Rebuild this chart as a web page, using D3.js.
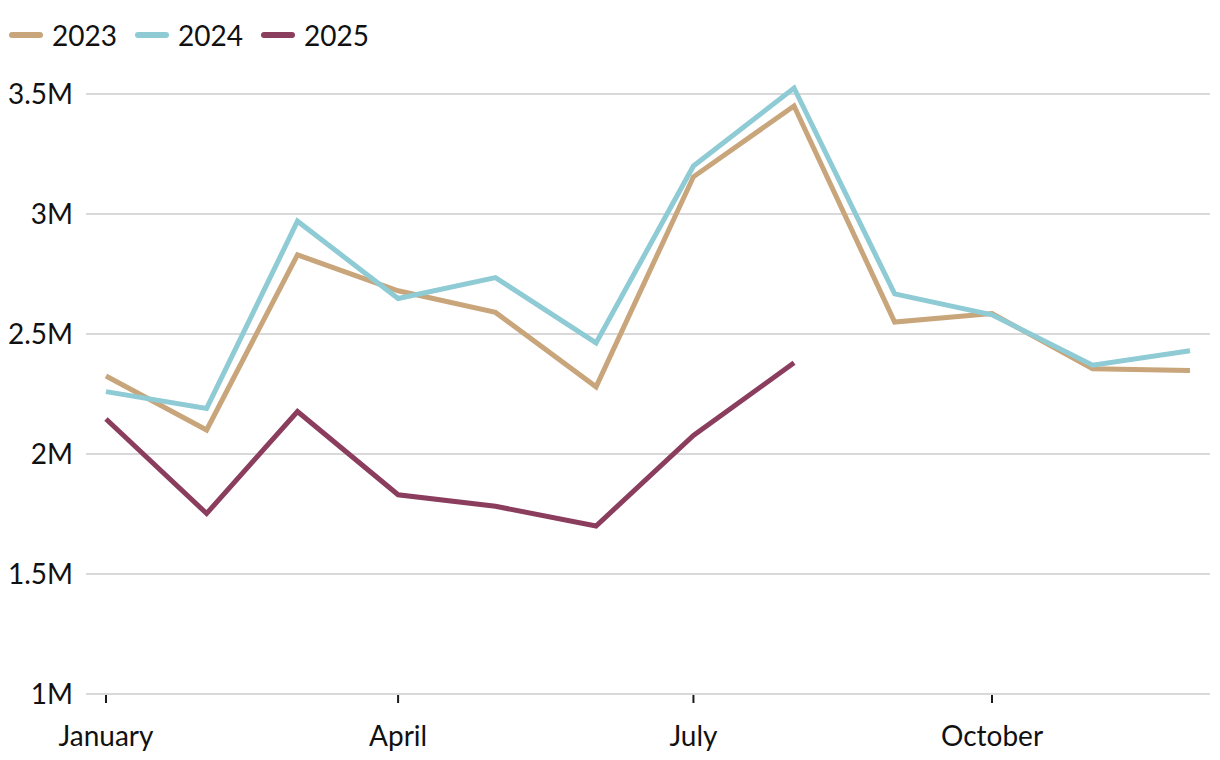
<!DOCTYPE html>
<html><head><meta charset="utf-8">
<script src="https://cdn.jsdelivr.net/npm/d3@7"></script>
<style>
body{margin:0;background:#fff;font-family:Lato,"Open Sans",sans-serif;}
</style></head>
<body><svg id="c" width="1220" height="760"></svg>
<script>
const months = ["2023-01-01","2023-02-01","2023-03-01","2023-04-01","2023-05-01","2023-06-01","2023-07-01","2023-08-01","2023-09-01","2023-10-01","2023-11-01","2023-12-01"];
const seriesNames = ["2023","2024","2025"];
const values2023 = [2.325,2.10,2.83,2.68,2.59,2.28,3.155,3.45,2.55,2.585,2.355,2.348];
const values2024 = [2.26,2.19,2.97,2.648,2.735,2.463,3.20,3.525,2.667,2.58,2.37,2.43];
const values2025 = [2.146,1.752,2.177,1.83,1.782,1.70,2.077,2.38];
const colors = ["#c8a57a","#8ecbd4","#8b3d5e"];
const yTicks = [1,1.5,2,2.5,3,3.5];
const xTicks = ["2023-01-01","2023-04-01","2023-07-01","2023-10-01"];
const xTickLabels = ["January","April","July","October"];

const svg = d3.select("#c");
const parse = d3.timeParse("%Y-%m-%d");
const x = d3.scaleTime().domain([parse(months[0]), parse(months[11])]).range([106,1190]);
const y = d3.scaleLinear().domain([1,3.5]).range([694,94]);

// gridlines
svg.append("g").selectAll("line").data(yTicks).join("line")
  .attr("x1",86).attr("x2",1210).attr("y1",d=>y(d)).attr("y2",d=>y(d))
  .attr("stroke","#cccccc").attr("stroke-width",1.5);
svg.append("g").selectAll("text").data(yTicks).join("text")
  .attr("x",73).attr("y",d=>y(d)+10).attr("text-anchor","end")
  .attr("font-size",28).attr("fill","#111").text(d=>d+"M");

// x axis ticks
const xa = svg.append("g");
xa.selectAll("line").data(xTicks).join("line")
  .attr("x1",d=>x(parse(d))).attr("x2",d=>x(parse(d))).attr("y1",695).attr("y2",703)
  .attr("stroke","#1a1a1a").attr("stroke-width",2);
xa.selectAll("text").data(xTicks).join("text")
  .attr("x",d=>x(parse(d))).attr("y",746).attr("text-anchor","middle")
  .attr("font-size",28).attr("fill","#111").text((d,i)=>xTickLabels[i]);

const all = [values2023, values2024, values2025];
const line = d3.line().x((d,i)=>x(parse(months[i]))).y(d=>y(d));
all.forEach((vals,k)=>{
  svg.append("path").datum(vals).attr("d",line).attr("fill","none")
    .attr("stroke",colors[k]).attr("stroke-width",5).attr("stroke-linejoin","miter").attr("stroke-linecap","butt");
});

// legend
const lg = svg.append("g");
seriesNames.forEach((n,i)=>{
  const ox = 10 + i*126;
  lg.append("line").attr("x1",ox+2).attr("x2",ox+30).attr("y1",35).attr("y2",35)
    .attr("stroke",colors[i]).attr("stroke-width",6).attr("stroke-linecap","round");
  lg.append("text").attr("x",ox+42).attr("y",46).attr("font-size",28).attr("fill","#111").text(n);
});
</script></body></html>
